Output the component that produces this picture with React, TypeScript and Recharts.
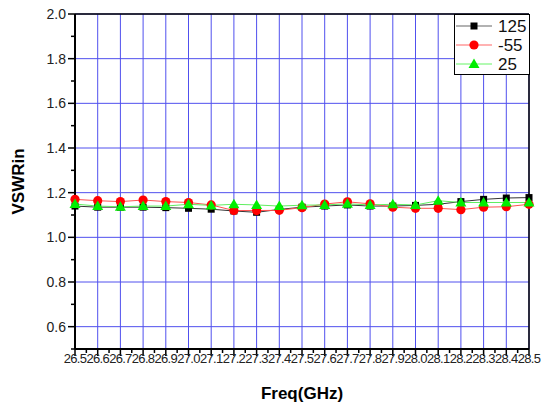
import { LineChart, Line, XAxis, YAxis, CartesianGrid, ReferenceLine } from 'recharts'

const freqTicks = [26.5, 26.6, 26.7, 26.8, 26.9, 27.0, 27.1, 27.2, 27.3, 27.4, 27.5, 27.6, 27.7, 27.8, 27.9, 28.0, 28.1, 28.2, 28.3, 28.4, 28.5]
const vswrTicks = [0.6, 0.8, 1.0, 1.2, 1.4, 1.6, 1.8, 2.0]

const t125 = [1.14, 1.135, 1.135, 1.135, 1.133, 1.13, 1.126, 1.118, 1.112, 1.125, 1.135, 1.14, 1.145, 1.14, 1.14, 1.143, 1.148, 1.16, 1.17, 1.176, 1.178]
const tMinus55 = [1.17, 1.164, 1.16, 1.167, 1.16, 1.156, 1.145, 1.12, 1.12, 1.121, 1.133, 1.149, 1.159, 1.15, 1.135, 1.13, 1.13, 1.124, 1.135, 1.137, 1.148]
const t25 = [1.149, 1.14, 1.137, 1.14, 1.14, 1.148, 1.143, 1.148, 1.145, 1.14, 1.144, 1.145, 1.15, 1.145, 1.148, 1.145, 1.164, 1.156, 1.156, 1.156, 1.156]

const data = freqTicks.map((f, i) => ({ freq: f, a: t125[i], b: tMinus55[i], c: t25[i] }))

// minor ticks halfway between the labelled ones
const xAllTicks = freqTicks.flatMap((f, i) => (i < freqTicks.length - 1 ? [f, +(f + 0.05).toFixed(2)] : [f]))
const yAllTicks = [0.5, ...vswrTicks.flatMap(v => (v < 2 ? [v, +(v + 0.1).toFixed(1)] : [v]))]

const FONT = '"Liberation Sans", Arial, sans-serif'
const GRID = '#5050ee'

const Square = ({ cx, cy }: any) => <rect x={cx - 3.5} y={cy - 3.5} width={7} height={7} fill="#000" />
const Circle = ({ cx, cy }: any) => <circle cx={cx} cy={cy} r={4.6} fill="#ff0000" />
const Triangle = ({ cx, cy }: any) => (
  <polygon points={`${cx},${cy - 5.5} ${cx + 5.5},${cy + 4} ${cx - 5.5},${cy + 4}`} fill="#00ee00" />
)

const XTick = ({ x, y, payload }: any) => {
  const major = freqTicks.some(f => Math.abs(f - payload.value) < 1e-6)
  return (
    <g>
      <line x1={x} x2={x} y1={y} y2={y + (major ? 7 : 4)} stroke="#000" strokeWidth={1.5} />
      {major && (
        <text x={x} y={y + 14} textAnchor="middle" fontSize={13} letterSpacing={-0.7} fill="#222" fontFamily={FONT}>
          {payload.value.toFixed(1)}
        </text>
      )}
    </g>
  )
}

const YTick = ({ x, y, payload }: any) => {
  const major = vswrTicks.some(v => Math.abs(v - payload.value) < 1e-6)
  return (
    <g>
      <line x1={x} x2={x - (major ? 7 : 4)} y1={y} y2={y} stroke="#000" strokeWidth={1.5} />
      {major && (
        <text x={x - 9} y={y + 5} textAnchor="end" fontSize={14} fill="#222" fontFamily={FONT}>
          {payload.value.toFixed(1)}
        </text>
      )}
    </g>
  )
}

const YTitle = ({ viewBox }: any) => {
  const cy = viewBox.y + viewBox.height / 2
  return (
    <text x={18} y={cy} transform={`rotate(-90, 18, ${cy})`} textAnchor="middle" dominantBaseline="central"
      fontSize={17} fontWeight="bold" fill="#000" fontFamily={FONT}>
      VSWRin
    </text>
  )
}

const legendItems = [
  { name: '125', color: '#000', Mark: Square },
  { name: '-55', color: '#ff0000', Mark: Circle },
  { name: '25', color: '#00ee00', Mark: Triangle },
]

const LegendBox = () => (
  <svg width={76} height={61} style={{ display: 'block' }}>
    <rect x={0.5} y={0.5} width={75} height={60} fill="#fff" stroke="#000" strokeWidth={1} />
    {legendItems.map((it, i) => {
      const cy = 12 + i * 19
      return (
        <g key={it.name}>
          <line x1={2} x2={38} y1={cy} y2={cy} stroke={it.color} strokeWidth={1} opacity={0.6} />
          <it.Mark cx={20} cy={cy} />
          <text x={44} y={cy + 6} fontSize={17} fill="#111" fontFamily={FONT}>
            {it.name}
          </text>
        </g>
      )
    })}
  </svg>
)

export default function App() {
  return (
    <div style={{ position: 'absolute', left: 0, top: 0, width: 543, height: 405, background: '#fff' }}>
      <LineChart width={543} height={405} data={data} margin={{ top: 14, right: 14, bottom: 0, left: 0 }}>
        <CartesianGrid
          stroke={GRID}
          strokeWidth={1}
          verticalValues={freqTicks}
          horizontalValues={vswrTicks}
        />
        <XAxis
          dataKey="freq"
          type="number"
          domain={[26.5, 28.5]}
          ticks={xAllTicks}
          interval={0}
          height={56}
          tickSize={0}
          tickMargin={0}
          tickLine={false}
          tick={<XTick />}
          axisLine={{ stroke: '#000', strokeWidth: 2 }}
          label={{ value: 'Freq(GHz)', position: 'insideBottom', offset: 6, fontSize: 17, fontWeight: 'bold', fill: '#000', fontFamily: FONT }}
        />
        <YAxis
          type="number"
          domain={[0.5, 2.0]}
          ticks={yAllTicks}
          interval={0}
          width={75}
          tickSize={0}
          tickMargin={0}
          tickLine={false}
          tick={<YTick />}
          axisLine={{ stroke: '#000', strokeWidth: 2 }}
          label={{ content: YTitle }}
        />
        <ReferenceLine y={2.0} stroke="#000" strokeWidth={1.5} />
        <ReferenceLine x={28.5} stroke="#000" strokeWidth={1.5} />
        <Line dataKey="a" name="125" stroke="#333" strokeWidth={1} dot={<Square />} activeDot={false} isAnimationActive={false} />
        <Line dataKey="b" name="-55" stroke="#ff5050" strokeWidth={1} dot={<Circle />} activeDot={false} isAnimationActive={false} />
        <Line dataKey="c" name="25" stroke="#60ee60" strokeWidth={1} dot={<Triangle />} activeDot={false} isAnimationActive={false} />
      </LineChart>
      <div style={{ position: 'absolute', left: 454, top: 14 }}>
        <LegendBox />
      </div>
    </div>
  )
}
